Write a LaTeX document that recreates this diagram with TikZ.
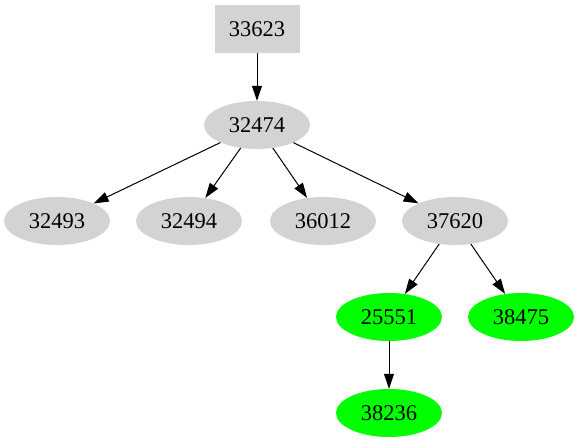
\documentclass[tikz,border=0pt]{standalone}
\usepackage{fontspec}
\setmainfont{Liberation Serif}
\usetikzlibrary{shapes.geometric,arrows.meta}
\definecolor{ngray}{RGB}{211,211,211}
\definecolor{ngreen}{RGB}{0,255,0}
\tikzset{
  base/.style={inner sep=0pt, font=\fontsize{22.5}{26}\selectfont},
  boxnode/.style={base, rectangle, fill=ngray, minimum width=85pt, minimum height=48pt},
  graynode/.style={base, ellipse, fill=ngray, minimum width=106pt, minimum height=48pt},
  greennode/.style={base, ellipse, fill=ngreen, minimum width=106pt, minimum height=48pt},
  edge/.style={draw=black, line width=1pt, -{Triangle[length=15pt,width=10pt]}}
}
\begin{document}
\begin{tikzpicture}[x=1pt,y=-1pt]
\useasboundingbox (0,0) rectangle (579,443);
\node[boxnode] (n33623) at (257,29) {33623};
\node[graynode] (n32474) at (257,125) {32474};
\node[graynode] (n32493) at (57,221) {32493};
\node[graynode] (n32494) at (189,221) {32494};
\node[graynode] (n36012) at (323,221) {36012};
\node[graynode] (n37620) at (455,221) {37620};
\node[greennode] (n25551) at (389,317) {25551};
\node[greennode] (n38475) at (521,317) {38475};
\node[greennode] (n38236) at (389,413) {38236};
\draw[edge] (n33623) -- (n32474);
\draw[edge] (n32474) -- (n32493);
\draw[edge] (n32474) -- (n32494);
\draw[edge] (n32474) -- (n36012);
\draw[edge] (n32474) -- (n37620);
\draw[edge] (n37620) -- (n25551);
\draw[edge] (n37620) -- (n38475);
\draw[edge] (n25551) -- (n38236);
\end{tikzpicture}
\end{document}
